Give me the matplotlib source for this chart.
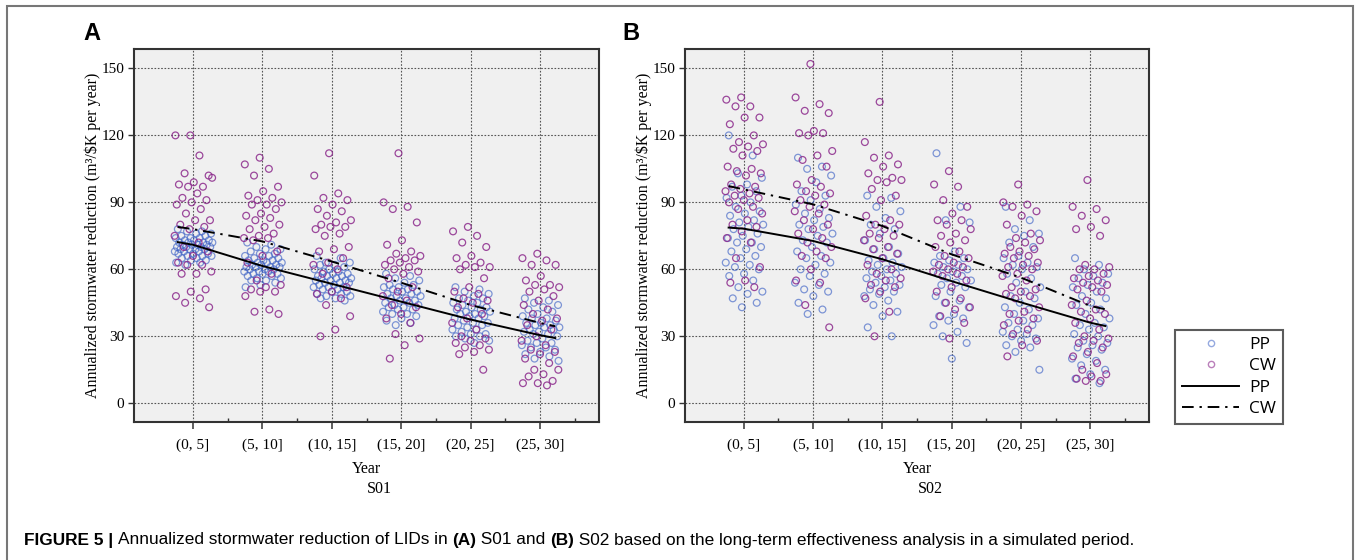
import matplotlib
matplotlib.use("Agg")
import matplotlib.pyplot as plt
import numpy as np
from matplotlib.lines import Line2D
from matplotlib.patches import Rectangle

# -----------------------------
# DATA
# -----------------------------
categories = ["(0, 5]", "(5, 10]", "(10, 15]", "(15, 20]", "(20, 25]", "(25, 30]"]
yticks = [0, 30, 60, 90, 120, 150]

# S01 - PP
s01_pp = [
    [78, 77, 77, 76, 76, 75, 75, 74, 74, 74, 73, 73, 73, 72, 72, 72, 72, 71, 71, 71, 71, 70, 70,
     70, 70, 69, 69, 69, 69, 68, 68, 68, 67, 67, 67, 66, 66, 66, 65, 65, 64, 64, 63, 63, 62],
    [72, 71, 70, 69, 69, 68, 67, 67, 66, 66, 65, 65, 64, 64, 64, 63, 63, 63, 62, 62, 62, 61, 61,
     61, 61, 60, 60, 60, 59, 59, 59, 58, 58, 58, 57, 57, 56, 56, 55, 55, 54, 53, 52],
    [66, 65, 63, 63, 62, 62, 61, 60, 60, 59, 59, 58, 58, 57, 57, 57, 56, 56, 56, 55, 55, 55, 54,
     54, 54, 53, 53, 52, 52, 52, 51, 51, 50, 50, 49, 49, 48, 48, 47, 47, 46],
    [58, 57, 56, 55, 54, 53, 53, 52, 52, 51, 51, 50, 50, 49, 49, 48, 48, 47, 47, 46, 46, 45, 45,
     44, 44, 43, 43, 42, 42, 41, 40, 40, 39, 38, 37, 36, 35],
    [52, 51, 50, 49, 48, 47, 47, 46, 45, 45, 44, 43, 43, 42, 42, 41, 41, 40, 40, 39, 39, 38, 38,
     37, 36, 36, 35, 35, 34, 33, 33, 32, 31, 31, 30, 30, 29, 28, 27],
    [47, 46, 45, 44, 43, 42, 41, 40, 39, 38, 38, 37, 36, 36, 35, 35, 34, 34, 33, 33, 32, 32, 31,
     31, 30, 29, 28, 27, 27, 26, 25, 25, 24, 23, 22, 21, 20, 19],
]
# S01 - CW
s01_cw = [
    [120, 120, 111, 103, 102, 99, 98, 97, 97, 101, 94, 92, 91, 90, 89, 87, 85, 82, 82, 80, 79,
     78, 75, 72, 70, 68, 66, 63, 62, 62, 59, 58, 58, 51, 50, 48, 47, 45, 43],
    [110, 107, 105, 102, 97, 95, 93, 92, 91, 90, 89, 89, 87, 85, 84, 83, 82, 80, 79, 78, 76, 75,
     74, 74, 73, 68, 66, 63, 58, 55, 53, 52, 51, 50, 50, 48, 42, 41, 40],
    [112, 102, 94, 92, 91, 89, 87, 86, 84, 82, 81, 80, 79, 79, 78, 76, 75, 70, 69, 68, 65, 63,
     62, 60, 58, 52, 50, 49, 47, 44, 39, 33, 30],
    [112, 90, 88, 87, 81, 73, 71, 68, 67, 66, 65, 64, 64, 63, 62, 61, 60, 59, 58, 56, 52, 50, 48,
     46, 44, 43, 40, 38, 36, 31, 29, 26, 20],
    [79, 77, 75, 72, 70, 66, 65, 63, 62, 61, 61, 60, 56, 52, 50, 49, 47, 46, 45, 43, 40, 38, 36,
     33, 30, 29, 28, 27, 26, 25, 24, 23, 22, 15],
    [67, 65, 64, 62, 62, 57, 55, 53, 53, 52, 51, 50, 48, 46, 44, 42, 40, 38, 37, 35, 33, 30, 28,
     26, 24, 23, 22, 20, 18, 15, 15, 13, 12, 10, 9, 9, 8],
]
# S02 - PP
s02_pp = [
    [120, 111, 103, 101, 98, 97, 95, 93, 92, 90, 88, 86, 85, 84, 82, 81, 80, 79, 78, 76, 75, 74,
     72, 72, 70, 69, 68, 66, 65, 63, 62, 61, 60, 58, 57, 55, 52, 50, 49, 47, 45, 43],
    [110, 106, 105, 102, 99, 95, 93, 91, 89, 87, 85, 83, 82, 80, 79, 78, 76, 75, 73, 72, 70, 68,
     66, 65, 63, 62, 60, 58, 57, 54, 53, 51, 50, 48, 45, 42, 40],
    [93, 92, 88, 86, 83, 80, 78, 76, 73, 70, 69, 67, 65, 64, 63, 62, 61, 60, 59, 58, 57, 56, 55,
     54, 53, 52, 51, 50, 49, 48, 46, 44, 41, 39, 34, 30],
    [112, 88, 82, 81, 68, 66, 65, 64, 63, 62, 61, 60, 59, 58, 57, 56, 55, 54, 53, 52, 50, 48, 46,
     45, 43, 40, 39, 38, 37, 35, 32, 30, 27, 20],
    [88, 82, 78, 76, 75, 72, 70, 66, 65, 63, 62, 61, 60, 58, 56, 54, 52, 50, 48, 47, 45, 43, 42,
     40, 38, 37, 36, 35, 33, 32, 31, 30, 29, 28, 26, 25, 23, 15],
    [65, 62, 60, 58, 57, 56, 54, 53, 52, 50, 48, 47, 45, 44, 42, 40, 38, 36, 35, 34, 33, 31, 30,
     28, 27, 26, 25, 24, 22, 20, 19, 17, 15, 13, 11, 9],
]
# S02 - CW
s02_cw = [
    [137, 136, 133, 133, 128, 128, 125, 120, 117, 116, 115, 114, 113, 111, 106, 105, 104, 103,
     102, 98, 97, 96, 95, 94, 93, 92, 91, 90, 88, 87, 85, 82, 80, 79, 77, 74, 72, 65, 61, 55, 54, 52],
    [152, 137, 134, 131, 130, 122, 121, 121, 120, 113, 111, 109, 106, 100, 98, 97, 95, 94, 93,
     91, 89, 88, 86, 85, 82, 80, 78, 76, 74, 72, 70, 68, 66, 65, 60, 55, 54, 44, 34],
    [135, 117, 111, 110, 107, 106, 103, 101, 100, 100, 99, 96, 93, 91, 84, 82, 80, 80, 78, 76,
     75, 74, 73, 70, 69, 67, 65, 62, 60, 58, 56, 55, 53, 52, 50, 47, 41, 30],
    [104, 98, 97, 91, 88, 85, 82, 82, 80, 78, 76, 75, 73, 72, 70, 68, 66, 65, 63, 62, 61, 60, 59,
     58, 57, 55, 52, 50, 47, 45, 43, 42, 39, 36, 29],
    [98, 90, 89, 88, 86, 84, 80, 76, 74, 73, 72, 70, 69, 68, 67, 66, 65, 63, 62, 61, 60, 58, 57,
     55, 52, 51, 50, 49, 48, 47, 43, 41, 40, 38, 37, 35, 33, 31, 28, 26, 21],
    [100, 88, 87, 84, 82, 79, 78, 75, 62, 61, 60, 60, 58, 57, 56, 55, 54, 53, 52, 51, 50, 46, 44,
     42, 41, 40, 38, 36, 33, 30, 29, 28, 27, 25, 23, 21, 18, 15, 13, 12, 11, 10, 10],
]

# fitted trend lines
fit_x = [-0.22, 0, 1, 2, 3, 4, 5, 5.22]
s01_pp_fit = [72.2, 71.0, 61.5, 53.5, 45.5, 37.5, 30.5, 29.2]
s01_cw_fit = [79.0, 78.0, 72.5, 63.5, 54.0, 44.0, 36.0, 34.5]
s02_pp_fit = [78.7, 78.2, 72.7, 64.5, 54.7, 45.2, 36.1, 34.6]
s02_cw_fit = [97.3, 95.8, 89.1, 79.4, 66.7, 56.3, 43.6, 42.1]

# -----------------------------
# STYLE
# -----------------------------
W, H = 1356, 560
PP_COL = "#3f63c6"
CW_COL = "#8c2a8c"
SERIF = ["Liberation Serif", "DejaVu Serif"]
SANS = ["Liberation Sans", "DejaVu Sans"]
DASHDOT = (0, (6, 3, 1.2, 3))


def jitter(n, phase):
    # evenly spread horizontal offsets (golden ratio sequence)
    return ((np.arange(n) * 0.618034 + phase) % 1.0 - 0.5) * 0.56


def px(x, y):
    return x / W, 1 - y / H


# -----------------------------
# PANEL
# -----------------------------
def draw_panel(ax, pp_groups, cw_groups, pp_fit, cw_fit):
    ax.set_facecolor("#f0f0f0")
    for i, (pp, cw) in enumerate(zip(pp_groups, cw_groups)):
        ax.scatter(i + jitter(len(pp), 0.11), pp, s=24, facecolors="none",
                   edgecolors=PP_COL, linewidths=0.9, alpha=0.65, zorder=3)
        ax.scatter(i + jitter(len(cw), 0.43), cw, s=24, facecolors="none",
                   edgecolors=CW_COL, linewidths=0.9, alpha=0.85, zorder=3)

    ax.plot(fit_x, pp_fit, color="black", lw=1.4, zorder=4)
    ax.plot(fit_x, cw_fit, color="black", lw=1.4, ls=DASHDOT, zorder=4)

    ax.set_xlim(-0.85, 5.85)
    ax.set_ylim(-8.4, 158.7)
    ax.set_xticks(range(len(categories)))
    ax.set_xticklabels(categories, family=SERIF, fontsize=11)
    ax.set_xticks(np.arange(0.5, 5.6, 1.0), minor=True)
    ax.set_yticks(yticks)
    ax.set_yticklabels([str(v) for v in yticks], family=SERIF, fontsize=11)

    ax.tick_params(axis="x", which="major", direction="out", length=5, width=1.1, pad=7, color="#333")
    ax.tick_params(axis="x", which="minor", direction="in", length=3, width=1.0, color="#333")
    ax.tick_params(axis="y", which="major", direction="out", length=4, width=1.0, pad=3, color="#333")

    ax.grid(True, which="major", color="#555555", lw=0.8, ls=(0, (1.5, 1.5)))
    ax.set_axisbelow(True)
    for sp in ax.spines.values():
        sp.set_linewidth(1.5)
        sp.set_color("#333333")

    ax.set_ylabel("Annualized stormwater reduction (m³/$K per year)",
                  family=SERIF, fontsize=11.5, labelpad=0)


# -----------------------------
# FIGURE
# -----------------------------
fig = plt.figure(figsize=(W / 100, H / 100), dpi=100)

ax_a = fig.add_axes([134 / W, 1 - 422 / H, 465 / W, 373 / H])
ax_b = fig.add_axes([685 / W, 1 - 422 / H, 464 / W, 373 / H])

draw_panel(ax_a, s01_pp, s01_cw, s01_pp_fit, s01_cw_fit)
draw_panel(ax_b, s02_pp, s02_cw, s02_pp_fit, s02_cw_fit)

# axis titles under each panel
for cx, scen in [(366.5, "S01"), (917, "S02")]:
    fig.text(*px(cx, 469), "Year", family=SERIF, fontsize=11.5, ha="center", va="center")
    fig.text(*px(cx + 13, 489), scen, family=SERIF, fontsize=11.5, ha="center", va="center")

# panel letters
fig.text(*px(83, 34), "A", fontsize=17, fontweight="bold", family=SANS, va="center")
fig.text(*px(622, 34), "B", fontsize=17, fontweight="bold", family=SANS, va="center")

# legend
handles = [
    Line2D([], [], ls="none", marker="o", ms=4.5, mfc="none", mec=PP_COL, mew=1.0, alpha=0.55),
    Line2D([], [], ls="none", marker="o", ms=4.5, mfc="none", mec=CW_COL, mew=1.0, alpha=0.6),
    Line2D([], [], color="black", lw=1.4),
    Line2D([], [], color="black", lw=1.4, ls=DASHDOT),
]
leg = fig.legend(handles, ["PP", "CW", "PP", "CW"], loc="upper left",
                 bbox_to_anchor=px(1175, 330), prop={"family": "Open Sans", "size": 12.5},
                 frameon=True, fancybox=False, edgecolor="#333333", handlelength=3.3,
                 handletextpad=0.55, labelspacing=0.3, borderpad=0.4, borderaxespad=0)
leg.get_frame().set_linewidth(1.5)

# outer frame
fig.patches.append(Rectangle((7 / W, -0.05), 1346 / W, 1.05 - 6 / H, transform=fig.transFigure,
                             fill=False, edgecolor="#777777", lw=1.5))

# caption with bold parts
pieces = [
    ("FIGURE 5 | ", "bold"),
    ("Annualized stormwater reduction of LIDs in ", "normal"),
    ("(A)", "bold"),
    (" S01 and ", "normal"),
    ("(B)", "bold"),
    (" S02 based on the long-term effectiveness analysis in a simulated period.", "normal"),
]
renderer = fig.canvas.get_renderer()
x0 = 24
for txt, wt in pieces:
    t = fig.text(*px(x0, 540), txt, family=SANS, fontsize=12.4, fontweight=wt, va="center")
    bb = t.get_window_extent(renderer)
    x0 += bb.width

fig.savefig("out.png", dpi=100)
